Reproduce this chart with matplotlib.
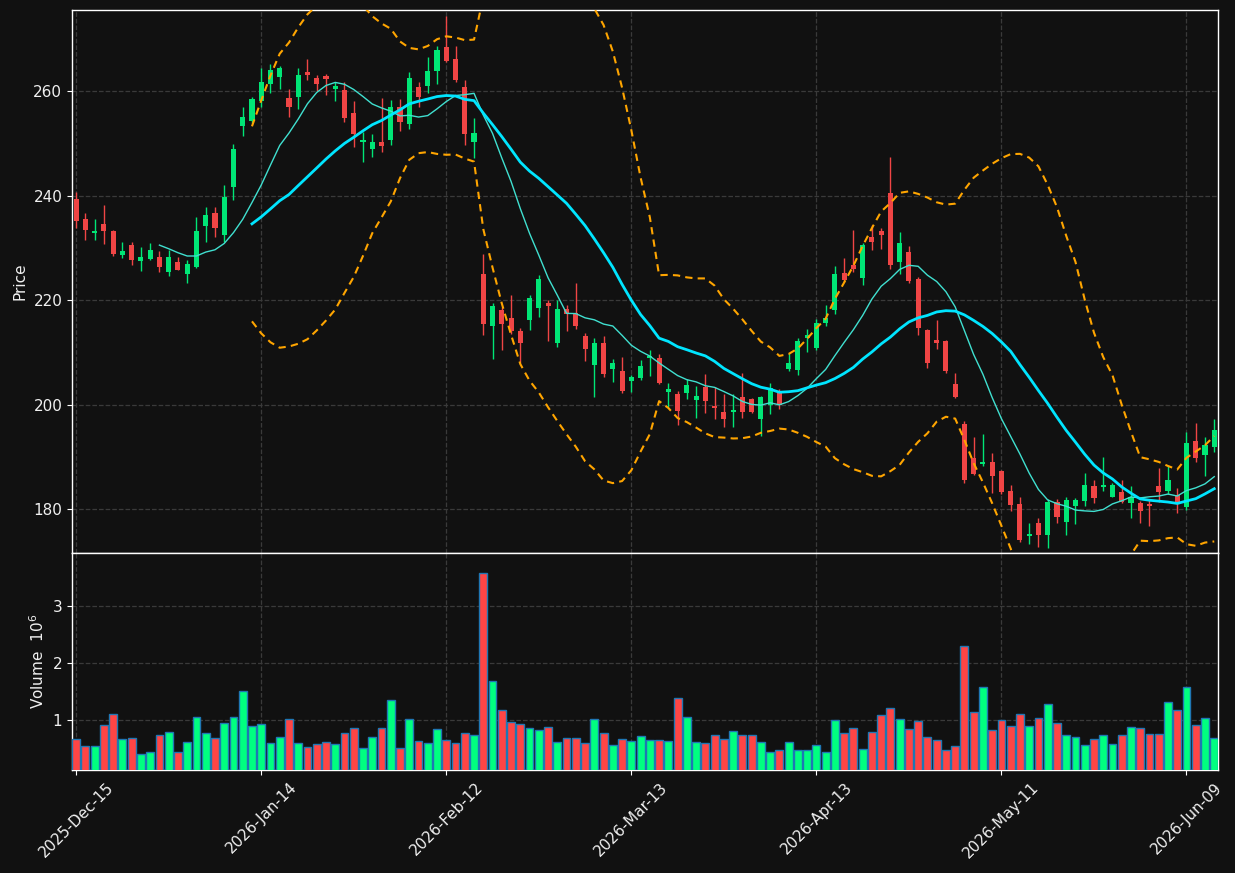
import numpy as np
import pandas as pd
import matplotlib
matplotlib.use("Agg")
import matplotlib.pyplot as plt

# ---------------- data ----------------
holidays = ["2025-12-25", "2026-01-01", "2026-01-19", "2026-02-16", "2026-04-03", "2026-05-25"]
dates = pd.bdate_range("2025-12-15", periods=124, freq="C", holidays=holidays)

opens = [239.3, 235.5, 232.9, 234.5, 233.2, 228.7, 230.5, 227.4, 227.9, 228.3,
         225.3, 227.3, 225.0, 226.4, 234.2, 236.6, 232.5, 241.7, 253.3, 254.2,
         258.0, 261.3, 262.7, 258.7, 258.9, 263.7, 262.5, 262.9, 260.4, 260.2,
         255.8, 250.3, 249.0, 250.2, 250.7, 256.9, 253.6, 260.8, 261.0, 263.8,
         268.4, 266.1, 260.8, 250.3, 225.0, 215.0, 218.0, 216.6, 214.0, 216.2,
         218.5, 219.5, 211.8, 218.3, 217.5, 213.1, 207.6, 211.8, 206.9, 206.5,
         204.5, 205.0, 208.9, 208.9, 202.4, 202.1, 202.2, 200.8, 203.4, 199.8,
         198.5, 198.5, 201.5, 201.0, 197.3, 200.0, 202.4, 206.9, 206.7, 212.8,
         210.9, 215.6, 218.1, 225.1, 226.8, 224.2, 232.0, 233.2, 240.5, 227.3,
         229.1, 224.0, 214.2, 212.3, 212.1, 204.0, 196.2, 189.8, 188.6, 189.1,
         187.2, 183.5, 181.0, 174.8, 177.3, 175.1, 181.4, 177.6, 180.6, 181.5,
         184.5, 184.3, 182.4, 183.3, 181.2, 181.2, 181.0, 184.5, 183.4, 182.6,
         180.3, 193.0, 190.3, 191.9]
highs = [240.7, 236.6, 235.6, 238.2, 233.4, 231.1, 231.2, 230.1, 230.9, 229.4,
         229.5, 228.2, 227.7, 235.8, 237.9, 237.9, 242.1, 249.8, 257.0, 258.9,
         264.5, 265.1, 264.8, 260.3, 264.5, 266.2, 263.1, 263.2, 261.8, 261.8,
         258.0, 252.2, 251.7, 258.6, 258.3, 258.5, 263.6, 261.8, 266.5, 268.6,
         274.3, 268.7, 262.1, 254.8, 228.8, 219.4, 218.6, 221.0, 214.6, 221.0,
         224.8, 220.0, 220.1, 219.0, 223.2, 213.7, 212.7, 213.1, 208.7, 209.1,
         205.7, 208.5, 210.5, 209.7, 204.1, 202.6, 204.8, 203.5, 205.9, 203.4,
         202.0, 202.1, 206.1, 201.2, 201.7, 204.1, 203.0, 209.8, 212.8, 214.4,
         216.3, 219.0, 226.5, 228.1, 233.5, 231.0, 234.4, 233.7, 247.3, 233.1,
         230.4, 224.4, 214.4, 216.2, 212.3, 206.1, 196.9, 193.7, 194.4, 190.8,
         187.4, 184.6, 182.3, 177.3, 178.3, 181.9, 182.0, 182.3, 182.1, 186.9,
         185.6, 190.0, 184.9, 185.6, 184.4, 181.5, 182.0, 187.9, 188.3, 184.0,
         194.8, 196.5, 193.8, 197.3]
lows = [233.7, 231.4, 231.4, 230.7, 228.5, 228.0, 226.8, 225.5, 227.7, 225.3,
        224.6, 225.7, 223.2, 226.1, 231.2, 232.0, 231.2, 239.2, 251.4, 253.9,
        257.0, 259.7, 260.4, 255.0, 256.5, 262.2, 260.0, 259.2, 258.0, 254.1,
        249.2, 246.5, 247.3, 248.3, 249.6, 252.4, 252.7, 257.0, 259.7, 261.3,
        265.6, 261.7, 249.7, 247.1, 213.4, 208.8, 210.4, 213.5, 208.0, 214.2,
        216.7, 212.1, 211.1, 214.0, 214.5, 208.3, 201.5, 205.3, 204.3, 202.2,
        202.4, 204.7, 205.4, 203.9, 199.6, 196.1, 201.0, 197.4, 198.4, 197.3,
        195.7, 195.7, 197.5, 198.3, 193.9, 198.1, 199.2, 206.4, 205.6, 210.0,
        210.4, 215.0, 217.3, 223.5, 225.4, 222.9, 229.6, 229.8, 226.0, 225.0,
        223.3, 213.3, 207.0, 210.7, 206.1, 201.3, 185.0, 186.5, 188.3, 183.1,
        182.9, 179.6, 173.7, 173.3, 172.7, 172.5, 177.4, 175.0, 177.1, 180.5,
        181.2, 183.5, 182.3, 181.2, 178.3, 177.3, 176.8, 181.3, 182.8, 179.2,
        179.9, 189.0, 186.3, 190.9]
closes = [235.2, 233.4, 233.2, 233.2, 228.8, 229.4, 227.6, 228.3, 229.6, 226.4,
          228.3, 225.8, 226.9, 233.2, 236.3, 233.8, 239.7, 249.0, 255.1, 258.5,
          261.8, 264.0, 264.5, 256.9, 263.1, 263.1, 261.3, 262.3, 261.0, 254.9,
          251.8, 250.6, 250.2, 249.4, 256.9, 254.0, 262.5, 258.9, 263.8, 267.8,
          265.8, 262.1, 251.8, 252.0, 215.4, 218.8, 215.5, 214.1, 211.7, 220.4,
          224.1, 218.9, 218.3, 217.3, 215.0, 210.7, 211.7, 205.9, 208.0, 202.5,
          205.2, 207.3, 209.2, 204.1, 202.9, 198.7, 203.8, 201.7, 200.6, 199.4,
          197.2, 199.0, 198.5, 198.5, 201.5, 203.2, 199.9, 207.9, 212.1, 213.4,
          215.7, 216.5, 224.9, 223.8, 225.9, 230.5, 231.2, 232.4, 226.8, 230.9,
          223.6, 214.6, 207.9, 211.7, 206.4, 201.5, 185.5, 186.7, 189.1, 186.3,
          183.2, 180.8, 174.0, 175.3, 175.1, 181.4, 178.4, 181.8, 181.8, 184.7,
          182.2, 184.5, 184.7, 181.3, 182.4, 179.6, 180.5, 183.2, 185.6, 181.0,
          192.6, 189.7, 192.3, 195.1]
volume_m = [0.667, 0.544, 0.544, 0.912, 1.105, 0.667, 0.684, 0.400, 0.440, 0.737,
            0.789, 0.440, 0.614, 1.053, 0.772, 0.684, 0.947, 1.053, 1.509, 0.895,
            0.930, 0.596, 0.702, 1.018, 0.596, 0.526, 0.579, 0.614, 0.579, 0.772,
            0.860, 0.509, 0.702, 0.860, 1.351, 0.509, 1.018, 0.632, 0.596, 0.842,
            0.649, 0.596, 0.772, 0.737, 3.579, 1.684, 1.175, 0.965, 0.930, 0.860,
            0.825, 0.877, 0.614, 0.684, 0.684, 0.596, 1.018, 0.772, 0.561, 0.667,
            0.632, 0.719, 0.649, 0.649, 0.632, 1.386, 1.053, 0.614, 0.596, 0.737,
            0.667, 0.807, 0.737, 0.737, 0.614, 0.440, 0.474, 0.614, 0.474, 0.474,
            0.561, 0.440, 1.000, 0.772, 0.860, 0.491, 0.789, 1.088, 1.211, 1.018,
            0.842, 0.982, 0.702, 0.649, 0.474, 0.544, 2.298, 1.140, 1.579, 0.825,
            1.000, 0.895, 1.105, 0.895, 1.035, 1.281, 0.947, 0.737, 0.702, 0.561,
            0.667, 0.737, 0.579, 0.737, 0.877, 0.860, 0.754, 0.754, 1.316, 1.175,
            1.579, 0.912, 1.035, 0.684]
tick_idx = [0, 20, 40, 60, 80, 100, 120]

# ---------------- style ----------------
BG = "#111111"
UP_C, DN_C = "#00e676", "#f04545"
UP_V, DN_V = "#00ff80", "#ff4545"
GRID = "#3a3a3a"
TXT = "#f0f0f0"

o = np.array(opens); h = np.array(highs); l = np.array(lows); c = np.array(closes)
v = np.array(volume_m)
x = np.arange(len(c))
up = c >= o

close_s = pd.Series(c)
ma10 = close_s.rolling(10).mean()
ma20 = close_s.rolling(20).mean()
sd20 = close_s.rolling(20).std()
bb_up = ma20 + 2 * sd20
bb_lo = ma20 - 2 * sd20

fig = plt.figure(figsize=(12.35, 8.73), dpi=100, facecolor=BG)
ax = fig.add_axes([0.0583, 0.3666, 0.9279, 0.6219], facecolor=BG)
axv = fig.add_axes([0.0583, 0.118, 0.9279, 0.2486], facecolor=BG, sharex=ax)

# candles
ccol = np.where(up, UP_C, DN_C)
ax.vlines(x, l, h, colors=ccol, linewidth=1.0, zorder=3)
body_h = np.maximum(np.abs(c - o), 0.3)
ax.bar(x, body_h, bottom=np.minimum(o, c), width=0.55, color=ccol, linewidth=0, zorder=4)

# overlays
ax.plot(x, ma10, color="#40e0d0", linewidth=1.0, zorder=5)
ax.plot(x, ma20, color="#00e5ff", linewidth=2.0, zorder=5)
ax.plot(x, bb_up, color="#ffa500", linewidth=1.5, linestyle=(0, (3.5, 2.5)), zorder=5)
ax.plot(x, bb_lo, color="#ffa500", linewidth=1.5, linestyle=(0, (3.5, 2.5)), zorder=5)

ax.set_ylim(171.6, 275.5)
ax.set_xlim(-0.45, 123.4)
ax.set_ylabel("Price", color=TXT, fontsize=11)

# volume
vcol = np.where(up, UP_V, DN_V)
axv.bar(x, v, width=0.85, color=vcol, edgecolor="#1f77b4", linewidth=1.0, zorder=3)
axv.set_ylim(0.3 * v.min(), 1.1 * v.max())
axv.set_yticks([1, 2, 3])
axv.set_ylabel("Volume  $10^{6}$", color=TXT, fontsize=11)

for a in (ax, axv):
    a.grid(True, linestyle="--", color=GRID, linewidth=0.9, zorder=0)
    a.set_axisbelow(True)
    for s in a.spines.values():
        s.set_color("white")
        s.set_linewidth(1.0)
    a.tick_params(colors="white", labelcolor=TXT, labelsize=11)

axv.set_xticks(tick_idx)
axv.set_xticklabels([dates[i].strftime("%Y-%b-%d") for i in tick_idx], rotation=45)
plt.setp(ax.get_xticklabels(), visible=False)

fig.savefig("out.png", dpi=100, facecolor=BG)
